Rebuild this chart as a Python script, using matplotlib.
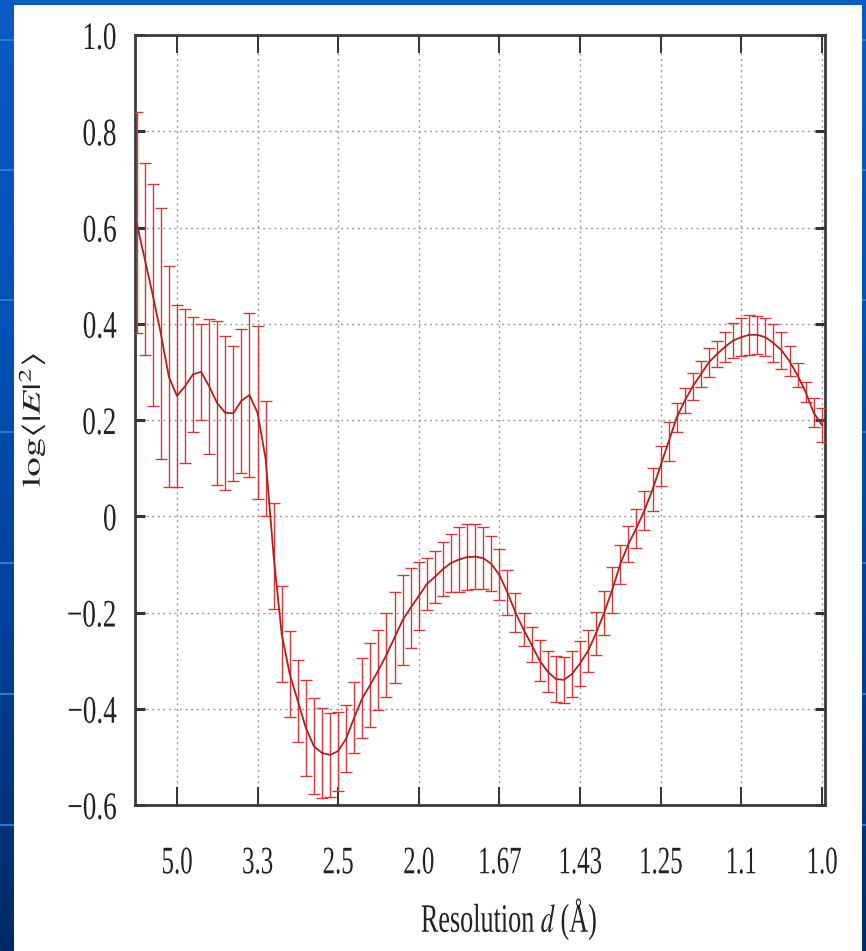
import numpy as np
import matplotlib
matplotlib.use('Agg')
import matplotlib.pyplot as plt
from matplotlib.patches import Rectangle
from matplotlib.patheffects import AbstractPathEffect
from matplotlib.transforms import Affine2D
from matplotlib.colors import LinearSegmentedColormap

plt.rcParams['font.family'] = ['Liberation Serif', 'DejaVu Serif']
plt.rcParams['mathtext.fontset'] = 'stix'

# ---------------- data ----------------
inv_d = [0.15, 0.16, 0.17, 0.18, 0.19, 0.20, 0.21, 0.22, 0.23, 0.24,
         0.25, 0.26, 0.27, 0.28, 0.29, 0.30, 0.31, 0.32, 0.33, 0.34,
         0.35, 0.36, 0.37, 0.38, 0.39, 0.40, 0.41, 0.42, 0.43, 0.44,
         0.45, 0.46, 0.47, 0.48, 0.49, 0.50, 0.51, 0.52, 0.53, 0.54,
         0.55, 0.56, 0.57, 0.58, 0.59, 0.60, 0.61, 0.62, 0.63, 0.64,
         0.65, 0.66, 0.67, 0.68, 0.69, 0.70, 0.71, 0.72, 0.73, 0.74,
         0.75, 0.76, 0.77, 0.78, 0.79, 0.80, 0.81, 0.82, 0.83, 0.84,
         0.85, 0.86, 0.87, 0.88, 0.89, 0.90, 0.91, 0.92, 0.93, 0.94,
         0.95, 0.96, 0.97, 0.98, 0.99, 1.00]

log_E2 = [0.61, 0.535, 0.46, 0.38, 0.29, 0.25, 0.27, 0.295, 0.30, 0.27,
          0.235, 0.215, 0.214, 0.24, 0.252, 0.215, 0.12, -0.083, -0.245, -0.328,
          -0.384, -0.44, -0.478, -0.492, -0.496, -0.488, -0.462, -0.418, -0.378, -0.35,
          -0.32, -0.288, -0.252, -0.216, -0.19, -0.166, -0.141, -0.126, -0.11, -0.097,
          -0.09, -0.085, -0.084, -0.087, -0.099, -0.122, -0.158, -0.20, -0.235, -0.267,
          -0.30, -0.323, -0.338, -0.34, -0.328, -0.306, -0.28, -0.243, -0.201, -0.153,
          -0.10, -0.058, -0.025, 0.012, 0.055, 0.105, 0.155, 0.205, 0.24, 0.27,
          0.295, 0.32, 0.337, 0.352, 0.365, 0.372, 0.377, 0.377, 0.372, 0.36,
          0.345, 0.322, 0.293, 0.258, 0.215, 0.19]

log_E2_err = [0.23, 0.20, 0.23, 0.26, 0.23, 0.19, 0.16, 0.12, 0.10, 0.14,
              0.17, 0.16, 0.14, 0.15, 0.17, 0.18, 0.12, 0.11, 0.10, 0.09,
              0.085, 0.10, 0.10, 0.093, 0.087, 0.082, 0.07, 0.074, 0.083, 0.087,
              0.083, 0.087, 0.095, 0.094, 0.083, 0.07, 0.054, 0.054, 0.056, 0.061,
              0.067, 0.068, 0.067, 0.064, 0.057, 0.053, 0.047, 0.04, 0.035, 0.036,
              0.043, 0.043, 0.047, 0.048, 0.047, 0.046, 0.043, 0.045, 0.045, 0.047,
              0.04, 0.037, 0.04, 0.04, 0.045, 0.042, 0.04, 0.03, 0.026, 0.028,
              0.027, 0.03, 0.027, 0.031, 0.036, 0.04, 0.042, 0.04, 0.04, 0.04,
              0.038, 0.031, 0.025, 0.021, 0.03, 0.035]

x_tick_pos = [0.2, 0.3, 0.4, 0.5, 0.6, 0.7, 0.8, 0.9, 1.0]
x_tick_labels = ['5.0', '3.3', '2.5', '2.0', '1.67', '1.43', '1.25', '1.1', '1.0']
y_ticks = [-0.6, -0.4, -0.2, 0.0, 0.2, 0.4, 0.6, 0.8, 1.0]
y_tick_labels = ['\u22120.6', '\u22120.4', '\u22120.2', '0', '0.2', '0.4', '0.6', '0.8', '1.0']


# ------------- condensed text effect (text stays real text) -------------
class Condensed(AbstractPathEffect):
    def __init__(self, sx=1.0, sy=1.0, ax_anchor=0.5, ay_anchor=0.0):
        super().__init__()
        self.sx, self.sy = sx, sy
        self.axa, self.aya = ax_anchor, ay_anchor

    def draw_path(self, renderer, gc, tpath, affine, rgbFace=None):
        ext = tpath.get_extents()
        cx = ext.x0 + self.axa * ext.width
        cy = ext.y0 + self.aya * ext.height
        pre = Affine2D().translate(-cx, -cy).scale(self.sx, self.sy).translate(cx, cy)
        renderer.draw_path(gc, tpath, pre + affine, rgbFace)


W, H = 866, 951
fig = plt.figure(figsize=(W / 100, H / 100), dpi=100)

# background: blue slide with white panel
bg = fig.add_axes([0, 0, 1, 1], zorder=-10)
grad = np.linspace(0, 1, 256).reshape(-1, 1)
cmap = LinearSegmentedColormap.from_list('bg', ['#0a5cc4', '#0052b6', '#00409a', '#002a66'])
bg.imshow(grad, extent=[0, 1, 0, 1], aspect='auto', cmap=cmap, origin='upper', zorder=0)
for yp in [40, 170, 300, 432, 563, 694, 825]:
    bg.axhline(1 - yp / H, color='#2f78d0', lw=1.5, zorder=1)
bg.add_patch(Rectangle((14 / W, 0), (862 - 14) / W, (H - 5) / H,
                       facecolor='white', edgecolor='none', transform=bg.transAxes,
                       zorder=5))
bg.set_xlim(0, 1)
bg.set_ylim(0, 1)
bg.axis('off')

ax = fig.add_axes([135 / W, 1 - 805 / H, 690 / W, 770 / H])
ax.set_facecolor('white')

ax.errorbar(inv_d, log_E2, yerr=log_E2_err, fmt='-', color='#b41e1e', lw=1.3,
            ecolor='#d03a3a', elinewidth=1.0, capsize=4.5, capthick=1.0, zorder=3)

ax.set_xlim(0.148, 1.004)
ax.set_ylim(-0.6, 1.0)

ax.grid(True, linestyle=(0, (1.5, 2.5)), color='#9c9c9c', linewidth=1.0)
ax.set_axisbelow(True)

ax.set_xticks(x_tick_pos)
ax.set_xticklabels(x_tick_labels, fontsize=28, color='#222222')
ax.set_yticks(y_ticks)
ax.set_yticklabels(y_tick_labels, fontsize=28, color='#222222')

ax.tick_params(axis='x', direction='in', length=13, width=1.4, color='#333333',
               top=True, bottom=True, pad=29)
ax.tick_params(axis='y', direction='in', length=7, width=2.2, color='#333333',
               left=True, right=True, pad=13)

for s in ax.spines.values():
    s.set_linewidth(2.0)
    s.set_color('#3a3a3a')

for lbl in ax.get_xticklabels():
    lbl.set_path_effects([Condensed(sx=0.64, ax_anchor=0.5)])
for lbl in ax.get_yticklabels():
    lbl.set_path_effects([Condensed(sx=0.7, ax_anchor=1.0)])

xl = ax.set_xlabel('Resolution $d$ (\u00c5)', fontsize=29, color='#222222')
ax.xaxis.set_label_coords(0.542, -0.12)
xl.set_path_effects([Condensed(sx=0.65, ax_anchor=0.5)])

yl = ax.set_ylabel(r'$\mathrm{log}\langle|E|^{2}\rangle$', fontsize=28, color='#222222')
ax.yaxis.set_label_coords(-0.1275, 0.5)
yl.set_path_effects([Condensed(sy=0.65, ay_anchor=0.0)])

fig.savefig('out.png', dpi=100)
